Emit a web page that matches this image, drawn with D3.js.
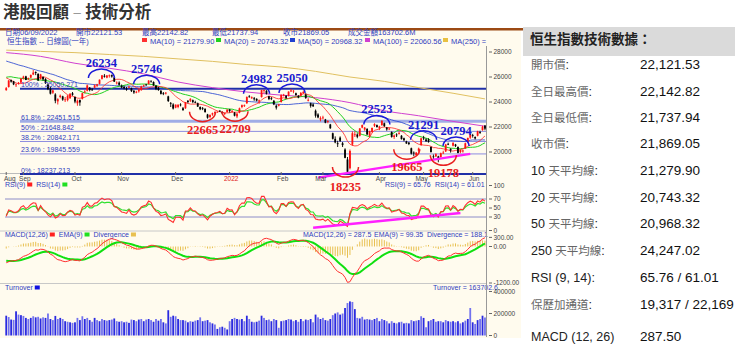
<!DOCTYPE html>
<html><head><meta charset="utf-8">
<script src="https://cdnjs.cloudflare.com/ajax/libs/d3/7.8.5/d3.min.js"></script>
<style>html,body{margin:0;padding:0;background:#fff;}svg{display:block;}</style>
</head><body>
<svg id="c" width="735" height="349"></svg>
<script>
// ---------------- DATA ----------------
const monthLabels = ["Aug","Sep","Oct","Nov","Dec","2022","Feb","Mar","Apr","May","Jun"];
const monthStart  = [0,7,28,47,69,91,112,129,152,170,190];

// closes before the first bar (Jun-Aug 2021), used only to warm up the indicators
const preCloses = [29468,29297,28966,28918,28787,28781,28742,28738,28842,28638,28436,28558,28801,28489,28309,28817,28882,29288,29268,28994,28828,
 28310,28072,28143,27960,27528,27344,27515,28173,27787,27996,28005,27489,27259,27224,27705,27321,26192,25086,25473,26316,25961,
 26235,26194,26426,26204,26179,26283,26605,26660,26517,26391,26181,25745,25867,25316,24849];

const opens = [24950,25200,25750,25650,25350,25500,25550,
 25900,26050,25850,25950,26200,26400,26250,25850,26000,25850,25400,25050,24750,24600,24050,24400,24450,24200,24150,24300,24700,
 24400,23900,24150,24250,24800,24900,25150,25000,25150,25300,25450,25850,26100,25950,26100,26150,25950,25500,25550,
 25300,25200,25050,25150,25100,24900,24800,24850,24950,25250,25400,25450,25700,25600,25300,25150,24900,24700,24700,24450,23900,23800,
 23550,23600,23800,23500,23500,24100,24100,24150,24000,23900,23600,23500,23450,23000,22800,23000,23100,23200,23300,23200,23050,23200,
 23400,23250,23150,22850,23150,23600,23700,23900,24450,24300,24300,24250,24050,24400,24950,24900,24450,24300,24100,23700,23700,
 24000,24500,24500,24500,24850,24850,24700,24500,24500,24700,24600,24150,23900,23800,23300,23000,22600,
 22750,22600,22400,22200,21500,21050,20700,21150,20700,20200,19400,18700,20600,21400,21400,21300,21950,21800,21850,21300,21600,22100,22150,
 21900,22150,22300,21950,21850,21600,21200,21400,21500,21300,21100,20850,20750,20300,19950,19750,20100,20550,
 21150,21000,21000,20400,19650,19650,19650,19600,19950,20050,20650,20250,20500,20600,20400,20000,20050,20300,20800,21150,
 21350,21200,21300,21600,21750,22121.53];
const highs = [25200,25740,25800,25690,25480,25600,25900,
 26100,26100,25950,26200,26560,26450,26300,26250,26050,25900,25500,25200,25000,24700,24300,24600,24500,24400,24550,24700,24800,
 24450,24200,24200,24750,24950,25400,25200,25100,25400,25450,25800,26150,26234,26150,26200,26200,26000,25650,25650,
 25400,25300,25200,25300,25150,24950,24900,25050,25300,25400,25450,25746,25720,25650,25350,25200,24950,24800,24800,24500,24000,23900,
 23800,23800,23900,23600,24000,24150,24300,24200,24100,23950,23650,23600,23500,23050,23000,23150,23250,23250,23350,23250,23150,23400,
 23450,23350,23200,23100,23550,23800,23800,24450,24550,24450,24400,24300,24200,24982,24980,24950,24500,24400,24150,23800,23850,
 24600,24650,24550,24850,25050,24950,24750,24550,24800,24900,24700,24300,23950,23900,23400,23100,22850,
 22900,22650,22550,22250,21550,21250,20900,21250,20800,20300,19600,20200,21650,21650,21500,21900,22200,22000,21900,21700,21950,22300,22200,
 22100,22523,22350,22000,21950,21650,21400,21500,21650,21350,21150,20900,20800,20350,20050,20000,20350,21150,
 21291,21100,21100,20450,19800,19900,19700,19950,20100,20650,20750,20300,20794,20650,20450,20200,20200,20750,21150,21450,
 21450,21250,21700,21700,22100,22142.82];
const lows = [24900,25150,25550,25350,25200,25400,25500,
 25800,25750,25750,25900,26150,26150,25700,25800,25700,25450,24950,24600,24650,23900,23800,24300,24100,24000,24050,24250,24500,
 23900,23700,23700,24200,24700,24850,24850,24900,25100,25200,25400,25800,25950,25900,25950,25950,25600,25400,25300,
 25100,25000,24900,25100,24800,24650,24700,24750,24900,25200,25300,25400,25550,25300,24950,24900,24600,24550,24600,24000,23600,23400,
 23500,23500,23650,23300,23450,23900,24000,23900,23900,23600,23350,23350,23150,22665,22700,22900,23050,23150,23200,23000,22950,23150,
 23150,23150,22850,22709,23100,23500,23600,23850,24350,24250,24100,24050,23850,24350,24700,24600,24150,24150,23750,23400,23650,
 23950,24450,24250,24450,24800,24700,24500,24300,24450,24650,24250,24050,23550,23600,22750,22700,22450,
 22600,22300,22300,21850,21000,20700,20400,20800,20400,19500,18235,18600,20500,21200,21100,21250,21900,21700,21350,21150,21550,22000,21950,
 21750,22100,22000,21700,21750,21150,21050,21200,21400,21000,20850,20650,20550,19800,19665,19700,19900,20500,
 20950,20800,20750,19950,19400,19600,19178,19550,19850,20000,20550,19950,20450,20400,19900,19900,19950,20250,20750,21050,
 21150,21000,21250,21450,21700,21737.94];
const closes = [25109,25727,25631,25415,25407,25539,25878,
 26028,25761,25901,26163,26353,26320,25716,26205,25813,25502,25033,24667,24920,24099,24221,24510,24192,24208,24500,24663,24575,
 24036,24104,23966,24702,24838,25325,24962,24962,25331,25410,25787,26136,26018,26126,26132,26038,25628,25555,25377,
 25154,25100,25025,25225,24870,24763,24813,24996,25247,25328,25390,25713,25650,25319,25050,24952,24651,24685,24740,24080,23852,23475,
 23789,23788,23766,23349,23983,23996,24254,23995,23954,23635,23420,23475,23192,22744,22971,23102,23193,23223,23280,23086,23112,23398,
 23274,23289,22907,23072,23493,23746,23739,24402,24429,24383,24218,24112,24127,24952,24966,24656,24243,24289,23807,23550,23802,
 24573,24579,24329,24830,24924,24906,24556,24355,24718,24792,24327,24170,23689,23660,22901,22767,22713,
 22761,22343,22467,21905,21057,20765,20627,20890,20554,19531,18415,20087,21501,21412,21221,21889,22154,21946,21404,21684,21927,22232,21997,
 22039,22502,22080,21808,21872,21208,21319,21374,21518,21027,20944,20682,20638,19869,19934,19946,20276,21089,
 21101,20870,20793,20001,19633,19824,19380,19898,19950,20602,20644,20120,20717,20470,19924,20171,20116,20697,21123,21415,
 21294,21082,21653,21532,22014,21869.05];
const turnover = [180000,168000,145000,142000,220000,190000,185000,
 178000,160000,150000,160000,175000,165000,170000,155000,165000,160000,200000,150000,140000,178000,150000,160000,150000,130000,125000,120000,115000,
 120000,160000,140000,175000,150000,160000,140000,125000,160000,140000,130000,150000,140000,135000,140000,145000,155000,130000,125000,
 130000,120000,125000,115000,145000,140000,130000,145000,150000,130000,145000,150000,140000,125000,150000,135000,150000,120000,110000,230000,170000,180000,
 175000,150000,140000,140000,135000,120000,130000,125000,135000,140000,165000,130000,135000,140000,120000,110000,100000,60000,75000,80000,70000,55000,
 130000,150000,160000,150000,145000,150000,130000,180000,150000,125000,120000,125000,135000,180000,160000,140000,145000,130000,150000,140000,70000,
 130000,135000,140000,150000,145000,130000,140000,125000,150000,130000,145000,140000,150000,120000,190000,165000,150000,
 160000,140000,135000,150000,185000,200000,210000,190000,200000,250000,295000,310000,305000,240000,160000,155000,170000,145000,150000,145000,140000,150000,160000,
 130000,150000,140000,130000,110000,130000,115000,110000,120000,125000,110000,115000,110000,140000,130000,135000,140000,175000,
 160000,75000,130000,140000,150000,125000,130000,130000,120000,140000,130000,125000,130000,120000,130000,110000,120000,135000,150000,250000,
 120000,105000,140000,150000,180000,163702.6];

// long moving averages at sample days
const maLongIdx = [0,14,28,42,56,70,84,98,112,126,140,154,168,182,195];
const ma100Val  = [27950,27650,27100,26700,26250,25600,25150,24800,24550,24350,23950,23300,22900,22450,22060];
const ma250Val  = [28150,28050,27950,27800,27650,27450,27250,27000,26800,26450,26000,25650,25150,24700,24247];

// Fibonacci retracement levels
const fibPct = ["100%","61.8%","50%","38.2%","23.6%","0%"];
const fibVal = [25050.271,22451.515,21648.842,20842.171,19845.559,18237.213];

// annotations
const peakIdx = [40,58,104,116,153,170,182];
const peakVal = [26234,25746,24982,25050,22523,21291,20794];
const troughIdx = [82,94,139,166,176];
const troughVal = [22665,22709,18235,19665,19178];
const priceTrend = [[127,17950],[189,19850]];
const rsiTrend = [[125,6],[185,39]];

// header texts
const headRow1 = ["日期06/09/2022","開市22121.53","最高22142.82","最低21737.94","收市21869.05","成交金額163702.6M"];
const maLegend = ["MA(10) = 21279.90","MA(20) = 20743.32","MA(50) = 20968.32","MA(100) = 22060.56","MA(250) = 24247.02"];
const priceTicks = [20000,22000,24000,26000,28000];
const rsiTicks = [0,30,50,70,100];
const macdTicks = [-1200,0,300];
const volTicks = [0,200000,400000];

const statLabels = ["開市價:","全日最高價:","全日最低價:","收市價:","10 天平均線:","20 天平均線:","50 天平均線:","250 天平均線:","RSI (9, 14):","保歷加通道:","MACD (12, 26)"];
const statValues = ["22,121.53","22,142.82","21,737.94","21,869.05","21,279.90","20,743.32","20,968.32","24,247.02","65.76 / 61.01","19,317 / 22,169","287.50"];

// ---------------- LAYOUT / STYLE ----------------
const SANS = "'Liberation Sans','DejaVu Sans','Noto Sans CJK TC',sans-serif";
const SERIF = "'Liberation Serif','DejaVu Serif',serif";
const BLUE_T = "#3040c0";
const peakDx = [-3,-2,-5,1,-5,0,3];
const troughDx = [-5,-2,-2,-7,5];
const troughDy = [15,15,17,15,15];
const fibW = [2,3,1,1,1,2];
const fibC = ["#2030a8","#a0ade6","#8c8ce0","#8c8ce0","#8c8ce0","#2030a8"];
const maColors = ["#ff3030","#20d020","#2040d0","#d040d0","#e0c060"];
const statY = [64,91,117,143,170,197,223,250,277,304,336];

const svg = d3.select("#c");
svg.append("rect").attr("width",735).attr("height",349).attr("fill","#fff");
svg.append("rect").attr("x",0).attr("y",30).attr("width",521).attr("height",308).attr("fill","#fffbee");
svg.append("rect").attr("x",0).attr("y",28).attr("width",523).attr("height",2.5).attr("fill","#9c4a14");

// title
const tt = svg.append("text").attr("x",3).attr("y",18).attr("font-family","'Noto Sans CJK TC',sans-serif")
  .attr("font-size",16.5).attr("font-weight","bold").attr("fill","#333");
tt.append("tspan").text("港股回顧");
tt.append("tspan").attr("fill","#999").attr("font-weight","normal").text(" – ");
tt.append("tspan").text("技術分析");

// scales
const N = closes.length;
const x = d3.scaleLinear().domain([-0.5, N-0.5]).range([5, 486.2]);
const yP = d3.scaleLinear().domain([20000,28000]).range([152,52]);
const yR = d3.scaleLinear().domain([0,100]).range([230.5,185.5]);
const yM = d3.scaleLinear().domain([0,-1200]).range([246.5,283]);
const yV = d3.scaleLinear().domain([0,400000]).range([335.5,291.5]);

// indicators
const all = preCloses.concat(closes);
const off = preCloses.length;
function sma(n){ return closes.map((_,i)=>{ const j=i+off; if(j-n+1<0) return null; let s=0; for(let k=j-n+1;k<=j;k++) s+=all[k]; return s/n; }); }
function ema(arr,n){ const k=2/(n+1); let e=arr[0]; return arr.map((v,i)=>{ e = i===0? v : v*k + e*(1-k); return e; }); }
function rsi(n){ const out=[]; let g=0,l=0;
  for(let i=1;i<=n;i++){ const d=all[i]-all[i-1]; if(d>0) g+=d; else l-=d; } g/=n; l/=n;
  for(let i=0;i<all.length;i++){ if(i>n){ const d=all[i]-all[i-1]; g=(g*(n-1)+Math.max(d,0))/n; l=(l*(n-1)+Math.max(-d,0))/n; }
    out.push(i<n?null:(l===0?100:100-100/(1+g/l))); }
  return out.slice(off); }
const ma10 = sma(10), ma20 = sma(20), ma50 = sma(50);
const e12 = ema(all,12), e26 = ema(all,26);
const macdAll = all.map((v,i)=>e12[i]-e26[i]);
const sigAll = ema(macdAll,9);
const macd = macdAll.slice(off), sig = sigAll.slice(off);
const rsi9 = rsi(9), rsi14 = rsi(14);

// clip paths
const defs = svg.append("defs");
function clip(id,x0,y0,w,h){ defs.append("clipPath").attr("id",id).append("rect").attr("x",x0).attr("y",y0).attr("width",w).attr("height",h); }
clip("cp",4,45,482.5,130); clip("cr",4,182,482.5,49); clip("cm",4,232,482.5,51); clip("ch",0,30,487,20);

// ---------- header legend ----------
const head = svg.append("g").attr("font-family",SANS).attr("font-size",7.5).attr("fill",BLUE_T);
const h1x = [5,76,142,212,283,348];
headRow1.forEach((t,i)=>head.append("text").attr("x",h1x[i]).attr("y",35).text(t));
head.append("text").attr("x",7).attr("y",43.5).text("恒生指數 -- 日線圖(一年)");
const h2x = [142,216,290,365,443];
const hg = head.append("g").attr("clip-path","url(#ch)");
maLegend.forEach((t,i)=>{
  hg.append("rect").attr("x",h2x[i]).attr("y",38).attr("width",5).attr("height",4).attr("fill",i===4?"#e8c040":maColors[i]);
  hg.append("text").attr("x",h2x[i]+8).attr("y",43.5).text(t);
});

// ---------- price pane ----------
const gp = svg.append("g").attr("clip-path","url(#cp)");
fibVal.forEach((v,i)=>{
  gp.append("line").attr("x1",20).attr("x2",486).attr("y1",yP(v)).attr("y2",yP(v))
    .attr("stroke",fibC[i]).attr("stroke-width",fibW[i]);
});
const lineS = d3.line().x(d=>x(d[0])).y(d=>yP(d[1])).curve(d3.curveMonotoneX);
gp.append("path").attr("d",lineS(maLongIdx.map((d,i)=>[d,ma250Val[i]]))).attr("fill","none").attr("stroke",maColors[4]).attr("stroke-width",1);
gp.append("path").attr("d",lineS(maLongIdx.map((d,i)=>[d,ma100Val[i]]))).attr("fill","none").attr("stroke",maColors[3]).attr("stroke-width",1);
const lineD = d3.line().defined(d=>d!=null).x((d,i)=>x(i)).y(d=>yP(d));
gp.append("path").attr("d",lineD(ma50)).attr("fill","none").attr("stroke",maColors[2]).attr("stroke-width",1).attr("opacity",0.8);
gp.append("path").attr("d",lineD(ma20)).attr("fill","none").attr("stroke",maColors[1]).attr("stroke-width",1);
gp.append("path").attr("d",lineD(ma10)).attr("fill","none").attr("stroke",maColors[0]).attr("stroke-width",1).attr("opacity",0.85);
closes.forEach((c,i)=>{
  const o=opens[i], col = c>=o ? "#ff1010" : "#000";
  gp.append("line").attr("x1",x(i)).attr("x2",x(i)).attr("y1",yP(highs[i])).attr("y2",yP(lows[i])).attr("stroke",col).attr("stroke-width",0.9);
  const t=yP(Math.max(o,c)), b=yP(Math.min(o,c));
  gp.append("rect").attr("x",x(i)-0.9).attr("y",t).attr("width",1.8).attr("height",Math.max(0.8,b-t)).attr("fill",col);
});
const fl = svg.append("g").attr("font-family",SANS).attr("font-size",7).attr("fill",BLUE_T);
fibVal.forEach((v,i)=>fl.append("text").attr("x",21).attr("y",yP(v)-1.5).text(fibPct[i]+" : "+v.toFixed(3)));
svg.append("line").attr("x1",x(priceTrend[0][0])).attr("y1",yP(priceTrend[0][1])).attr("x2",x(priceTrend[1][0])).attr("y2",yP(priceTrend[1][1]))
  .attr("stroke","#ff20ff").attr("stroke-width",2.5);
const ann = svg.append("g");
peakIdx.forEach((d,i)=>{
  const cx=x(d)+peakDx[i], cy=yP(peakVal[i])+4, rx=13, ry=9;
  ann.append("path").attr("d",`M${cx-rx},${cy} A${rx},${ry} 0 0,1 ${cx+rx},${cy}`).attr("fill","none").attr("stroke","#1a1ad8").attr("stroke-width",1.5);
  ann.append("text").attr("x",cx).attr("y",yP(peakVal[i])-7).attr("text-anchor","middle").attr("font-family",SERIF)
    .attr("font-weight","bold").attr("font-size",12.5).attr("fill","#1a1ad0").text(peakVal[i]);
});
troughIdx.forEach((d,i)=>{
  const cx=x(d)+troughDx[i], cy=yP(troughVal[i])-7, rx=13, ry=10;
  ann.append("path").attr("d",`M${cx-rx},${cy} A${rx},${ry} 0 0,0 ${cx+rx},${cy}`).attr("fill","none").attr("stroke","#e82020").attr("stroke-width",1.5);
  ann.append("text").attr("x",cx).attr("y",yP(troughVal[i])+troughDy[i]).attr("text-anchor","middle").attr("font-family",SERIF)
    .attr("font-weight","bold").attr("font-size",12.5).attr("fill","#e82020").text(troughVal[i]);
});
// x axis
const xa = svg.append("g").attr("font-family",SANS).attr("font-size",6.5).attr("fill","#444");
xa.append("line").attr("x1",0).attr("x2",20).attr("y1",173.5).attr("y2",173.5).attr("stroke","#bbb");
monthStart.forEach((d,i)=>{
  xa.append("line").attr("x1",x(d)).attr("x2",x(d)).attr("y1",172).attr("y2",175).attr("stroke","#666");
  xa.append("text").attr("x",i===0?4:x(d)+(i===7?-2:i===9?-2:1.5)).attr("y",180.5).attr("text-anchor",i===0?"start":"middle")
    .attr("fill",monthLabels[i]==="2022"?"#e02020":"#444").text(monthLabels[i]);
});

// ---------- RSI pane ----------
const gr = svg.append("g").attr("clip-path","url(#cr)");
[70,30].forEach(v=>gr.append("line").attr("x1",5).attr("x2",486).attr("y1",yR(v)).attr("y2",yR(v)).attr("stroke","#8c8cc8").attr("stroke-width",1));
const lineR = d3.line().defined(d=>d!=null).x((d,i)=>x(i)).y(d=>yR(d));
gr.append("path").attr("d",lineR(rsi14)).attr("fill","none").attr("stroke","#30e030").attr("stroke-width",1.2);
gr.append("path").attr("d",lineR(rsi9)).attr("fill","none").attr("stroke","#ff3030").attr("stroke-width",1.1);
svg.append("line").attr("x1",x(rsiTrend[0][0])).attr("y1",yR(rsiTrend[0][1])).attr("x2",x(rsiTrend[1][0])).attr("y2",yR(rsiTrend[1][1]))
  .attr("stroke","#ff20ff").attr("stroke-width",2.5);
const lg = svg.append("g").attr("font-family",SANS).attr("font-size",7).attr("fill",BLUE_T);
function legend(y, items){ let cx=5; items.forEach(it=>{ const t=lg.append("text").attr("x",cx).attr("y",y).text(it[0]);
  const w=t.node().getComputedTextLength(); lg.append("rect").attr("x",cx+w+2).attr("y",y-4.5).attr("width",5).attr("height",4).attr("fill",it[1]); cx+=w+11; }); }
legend(187,[["RSI(9)","#ff2020"],["RSI(14)","#20e020"]]);
lg.append("text").attr("x",385).attr("y",187).text("RSI(9) = 65.76");
lg.append("text").attr("x",435).attr("y",187).text("RSI(14) = 61.01");

[231,283.5].forEach(y=>svg.append("line").attr("x1",0).attr("x2",487).attr("y1",y).attr("y2",y).attr("stroke","#c8c8c8"));

// ---------- MACD pane ----------
const gm = svg.append("g").attr("clip-path","url(#cm)");
macd.forEach((m,i)=>gm.append("line").attr("x1",x(i)).attr("x2",x(i)).attr("y1",yM(0)).attr("y2",yM(m-sig[i])).attr("stroke","#e8c050").attr("stroke-width",1));
const lineM = d3.line().x((d,i)=>x(i)).y(d=>yM(d));
gm.append("path").attr("d",lineM(sig)).attr("fill","none").attr("stroke","#10e010").attr("stroke-width",2);
gm.append("path").attr("d",lineM(macd)).attr("fill","none").attr("stroke","#ff3030").attr("stroke-width",1);
legend(237,[["MACD(12,26)","#ff2020"],["EMA(9)","#20e020"],["Divergence","#e8c050"]]);
lg.append("text").attr("x",303).attr("y",237).text("MACD(12,26) = 287.5");
lg.append("text").attr("x",374).attr("y",237).text("EMA(9) = 99.35");
lg.append("text").attr("x",427).attr("y",237).text("Divergence = 188.1");

// ---------- Turnover pane ----------
const gv = svg.append("g");
turnover.forEach((v,i)=>gv.append("rect").attr("x",x(i)-0.9).attr("y",yV(v)).attr("width",1.8).attr("height",yV(0)-yV(v)).attr("fill",i%2?"#7272ee":"#2a2ae0"));
legend(290,[["Turnover","#1010e0"]]);
lg.append("text").attr("x",433).attr("y",290).text("Turnover = 163702.6");

// ---------- right axis ----------
const ax = svg.append("g").attr("font-family",SANS).attr("font-size",6.5).attr("fill","#444");
ax.append("line").attr("x1",486.5).attr("x2",486.5).attr("y1",46).attr("y2",337).attr("stroke","#999");
function ticks(vals, sc, fmt){ vals.forEach(v=>{ const y=sc(v);
  ax.append("line").attr("x1",489).attr("x2",492).attr("y1",y).attr("y2",y).attr("stroke","#666");
  ax.append("text").attr("x",493.5).attr("y",y+2.3).text(fmt(v)); }); }
ticks(priceTicks, yP, d=>String(d));
ticks(rsiTicks, yR, d=>String(d));
ticks(macdTicks, yM, d=>d.toFixed(2));
ticks(volTicks, yV, d=>String(d));

// ---------- right statistics panel ----------
svg.append("rect").attr("x",523).attr("y",27).attr("width",212).attr("height",29).attr("fill","#dadada");
svg.append("text").attr("x",530).attr("y",43.5).attr("font-family","'Noto Sans CJK TC',sans-serif").attr("font-weight","bold")
  .attr("font-size",13.5).attr("fill","#222").text("恒生指數技術數據：");
const sp = svg.append("g").attr("font-family",SANS);
statLabels.forEach((lab,i)=>{
  const t = sp.append("text").attr("x",531).attr("y",statY[i]+4.5);
  lab.split(/([\u3400-\u9fff]+)/).filter(s=>s.length).forEach(s=>{
    const cjk=/[\u3400-\u9fff]/.test(s);
    t.append("tspan").attr("font-size",cjk?11.5:12.5).attr("fill",cjk?"#666":"#222")
      .attr("font-family",cjk?"'Noto Sans CJK TC',sans-serif":SANS).text(s);
  });
  sp.append("text").attr("x",640).attr("y",statY[i]+5).attr("font-size",13.5).attr("fill","#111").text(statValues[i]);
});
</script>
</body></html>
